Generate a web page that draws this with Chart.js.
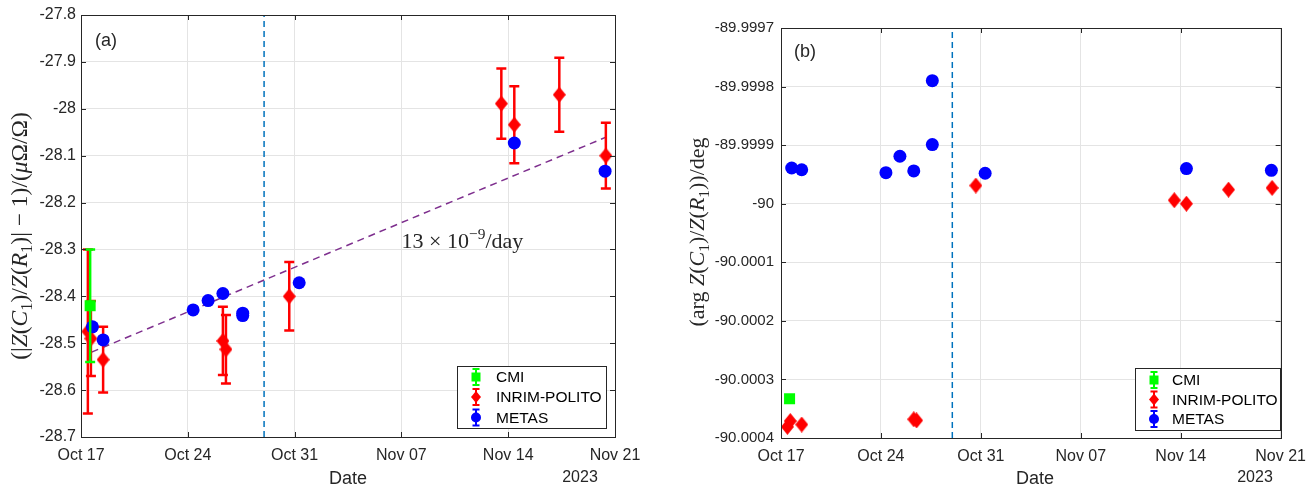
<!DOCTYPE html>
<html>
<head>
<meta charset="utf-8">
<script src="https://cdn.jsdelivr.net/npm/chart.js@4.4.0/dist/chart.umd.min.js"></script>
<style>
  html, body { margin: 0; padding: 0; background: #fff; }
  #wrap { position: relative; width: 1315px; height: 489px; }
  .pane { position: absolute; top: 0; }
</style>
</head>
<body>
<div id="wrap">
  <canvas id="chartA" class="pane" style="left:0" width="657" height="489"></canvas>
  <canvas id="chartB" class="pane" style="left:657px" width="658" height="489"></canvas>
</div>
<script>
// x values are days counted from Oct 17 2023
const dateTicks = [0, 7, 14, 21, 28, 35];
const dateLabels = ['Oct 17', 'Oct 24', 'Oct 31', 'Nov 07', 'Nov 14', 'Nov 21'];
const yTicksA = [-28.7, -28.6, -28.5, -28.4, -28.3, -28.2, -28.1, -28.0, -27.9, -27.8];
const yTicksB = [-90.0004, -90.0003, -90.0002, -90.0001, -90.0, -89.9999, -89.9998, -89.9997];
const splitDay = 12; // Oct 29

// CMI
const daysCMI = [0.6];
const absCMI = [-28.42];
const errAbsCMI = [0.12];
const argCMI = [-90.000333];

// INRIM-POLITO
const daysINRIM = [0.45, 0.65, 1.45, 9.3, 9.5, 13.65, 27.55, 28.4, 31.35, 34.4];
const absINRIM = [-28.475, -28.49, -28.535, -28.495, -28.513, -28.40, -27.989, -28.034, -27.970, -28.100];
const errAbsINRIM = [0.175, 0.08, 0.07, 0.073, 0.073, 0.073, 0.075, 0.082, 0.079, 0.07];
const argINRIM = [-90.000381, -90.000371, -90.000377, -90.000368, -90.00037, -89.999969, -89.999994, -90.0, -89.999976, -89.999973];

// METAS
const daysMETAS = [0.75, 1.45, 7.35, 8.33, 9.3, 10.6, 10.6, 14.3, 28.4, 34.35];
const absMETAS = [-28.465, -28.493, -28.429, -28.409, -28.394, -28.436, -28.441, -28.371, -28.073, -28.133];
const errAbsMETAS = [0.005, 0.005, 0.005, 0.005, 0.005, 0.005, 0.005, 0.005, 0.006, 0.005];
const argMETAS = [-89.999939, -89.999942, -89.999947, -89.999919, -89.999944, -89.99979, -89.999899, -89.999948, -89.99994, -89.999943];

// linear drift fit, 13e-9 per day
const trendDays = [0.7, 34.45];
const trendAbs = [-28.519, -28.060];

const TXT = '#262626';
const SANS = '"Liberation Sans", Arial, sans-serif';
const SERIF = '"Liberation Serif", "Times New Roman", serif';

function pts(xs, ys) { return xs.map((x, i) => ({ x: x, y: ys[i] })); }

// MATLAB style diamond marker
function diamond(w, h, color) {
  const c = document.createElement('canvas');
  c.width = w; c.height = h;
  const g = c.getContext('2d');
  g.fillStyle = color;
  g.beginPath();
  g.moveTo(w / 2, 0); g.lineTo(w, h / 2); g.lineTo(w / 2, h); g.lineTo(0, h / 2);
  g.closePath(); g.fill();
  return c;
}
const diamondMark = diamond(13, 16, '#ff0000');

function drawRuns(ctx, runs, x, y, size, family) {
  const pieces = runs.map(r => {
    const s = (r.sub || r.sup) ? size * 0.7 : size;
    const font = (r.it ? 'italic ' : '') + s + 'px ' + family;
    ctx.font = font;
    return { t: r.t, font: font, w: ctx.measureText(r.t).width, dy: r.sub ? size * 0.22 : (r.sup ? -size * 0.42 : 0) };
  });
  const total = pieces.reduce((a, p) => a + p.w, 0);
  let cx = x - total / 2;
  ctx.textAlign = 'left';
  ctx.textBaseline = 'alphabetic';
  pieces.forEach(p => { ctx.font = p.font; ctx.fillText(p.t, cx, y + p.dy); cx += p.w; });
}

const errorBars = {
  id: 'errorBars',
  beforeDatasetDraw(chart, args) {
    const ds = chart.data.datasets[args.index];
    if (!ds.errors) return;
    const ctx = chart.ctx, xs = chart.scales.x, ys = chart.scales.y;
    ctx.save();
    ctx.strokeStyle = ds.barColor;
    ctx.lineWidth = 2.5;
    ds.data.forEach((p, i) => {
      const e = ds.errors[i];
      const px = xs.getPixelForValue(p.x);
      const top = ys.getPixelForValue(p.y + e);
      const bot = ys.getPixelForValue(p.y - e);
      ctx.beginPath();
      ctx.moveTo(px, top); ctx.lineTo(px, bot);
      ctx.moveTo(px - 5, top); ctx.lineTo(px + 5, top);
      ctx.moveTo(px - 5, bot); ctx.lineTo(px + 5, bot);
      ctx.stroke();
    });
    ctx.restore();
  }
};

function framePlugin(cfg) {
  return {
    id: 'frame',
    afterDraw(chart) {
      const ctx = chart.ctx, a = chart.chartArea;
      const xs = chart.scales.x, ys = chart.scales.y;
      ctx.save();
      // box and inward ticks
      ctx.strokeStyle = TXT;
      ctx.lineWidth = 1;
      ctx.strokeRect(Math.round(a.left) + 0.5, Math.round(a.top) + 0.5, Math.round(a.right - a.left), Math.round(a.bottom - a.top));
      ctx.beginPath();
      dateTicks.forEach(v => {
        const px = Math.round(xs.getPixelForValue(v)) + 0.5;
        ctx.moveTo(px, a.bottom); ctx.lineTo(px, a.bottom - 5);
        ctx.moveTo(px, a.top); ctx.lineTo(px, a.top + 5);
      });
      cfg.yTicks.forEach(v => {
        const py = Math.round(ys.getPixelForValue(v)) + 0.5;
        ctx.moveTo(a.left, py); ctx.lineTo(a.left + 5, py);
        ctx.moveTo(a.right, py); ctx.lineTo(a.right - 5, py);
      });
      ctx.stroke();

      // panel tag, x label, year
      ctx.fillStyle = TXT;
      ctx.font = '18px ' + SANS;
      ctx.textAlign = 'left'; ctx.textBaseline = 'middle';
      ctx.fillText(cfg.tag, cfg.tagX, cfg.tagY);
      ctx.textAlign = 'center';
      ctx.font = '18px ' + SANS;
      ctx.fillText('Date', cfg.dateX, 479);
      ctx.font = '16px ' + SANS;
      ctx.fillText('2023', cfg.yearX, 478);

      // y label
      ctx.save();
      ctx.translate(cfg.ylabX, cfg.ylabY);
      ctx.rotate(-Math.PI / 2);
      drawRuns(ctx, cfg.ylabRuns, 0, 7, cfg.ylabSize, SERIF);
      ctx.restore();

      // annotation
      if (cfg.note) {
        const nx = xs.getPixelForValue(cfg.note.x), ny = ys.getPixelForValue(cfg.note.y);
        drawRuns(ctx, cfg.note.runs, nx, ny + 7, 22, SERIF);
      }

      // legend
      const L = cfg.legend;
      ctx.fillStyle = '#fff';
      ctx.fillRect(L.x, L.y, L.w, L.h);
      ctx.strokeStyle = TXT;
      ctx.strokeRect(L.x + 0.5, L.y + 0.5, L.w, L.h);
      const items = [
        { name: 'CMI', color: '#00ff00', shape: 'square' },
        { name: 'INRIM-POLITO', color: '#ff0000', shape: 'diamond' },
        { name: 'METAS', color: '#0000ff', shape: 'circle' }
      ];
      items.forEach((it, i) => {
        const cy = L.rowY[i], ix = L.iconX;
        ctx.strokeStyle = it.color; ctx.fillStyle = it.color; ctx.lineWidth = 2;
        ctx.beginPath();
        ctx.moveTo(ix, cy - 8); ctx.lineTo(ix, cy + 8);
        ctx.moveTo(ix - 3.5, cy - 8); ctx.lineTo(ix + 3.5, cy - 8);
        ctx.moveTo(ix - 3.5, cy + 8); ctx.lineTo(ix + 3.5, cy + 8);
        ctx.stroke();
        ctx.beginPath();
        if (it.shape === 'square') ctx.rect(ix - 4.5, cy - 4.5, 9, 9);
        else if (it.shape === 'diamond') { ctx.moveTo(ix, cy - 6); ctx.lineTo(ix + 5, cy); ctx.lineTo(ix, cy + 6); ctx.lineTo(ix - 5, cy); ctx.closePath(); }
        else ctx.arc(ix, cy, 5, 0, Math.PI * 2);
        ctx.fill();
        ctx.fillStyle = '#000';
        ctx.font = '15.5px ' + SANS;
        ctx.textAlign = 'left'; ctx.textBaseline = 'middle';
        ctx.fillText(it.name, L.textX, cy + 1);
      });
      ctx.restore();
    }
  };
}

// CMI drawn on top, then METAS, then INRIM-POLITO
function seriesSets(yCMI, yINRIM, yMETAS, withErrors) {
  return [
    { label: 'CMI', data: pts(daysCMI, yCMI), pointStyle: 'rect', pointRadius: 7.8, pointBorderWidth: 0,
      backgroundColor: '#00ff00', borderColor: '#00ff00', barColor: '#00ff00', errors: withErrors ? errAbsCMI : null, order: 0 },
    { label: 'METAS', data: pts(daysMETAS, yMETAS), pointStyle: 'circle', pointRadius: 6.5, pointBorderWidth: 0,
      backgroundColor: '#0000ff', borderColor: '#0000ff', barColor: '#0000ff', errors: withErrors ? errAbsMETAS : null, order: 1 },
    { label: 'INRIM-POLITO', data: pts(daysINRIM, yINRIM), pointStyle: diamondMark, pointRadius: 7, pointBorderWidth: 0,
      backgroundColor: '#ff0000', borderColor: '#ff0000', barColor: '#ff0000', errors: withErrors ? errAbsINRIM : null, order: 2 }
  ];
}

function baseOptions(yTicks, yWidth, xHeight, pad, yPad, yFont) {
  return {
    responsive: false,
    animation: false,
    events: [],
    layout: { padding: pad },
    plugins: { legend: { display: false }, tooltip: { enabled: false } },
    scales: {
      x: {
        type: 'linear', min: 0, max: 35,
        afterBuildTicks: s => { s.ticks = dateTicks.map(v => ({ value: v })); },
        afterFit: s => { s.height = xHeight; },
        ticks: { callback: v => dateLabels[dateTicks.indexOf(v)], color: TXT, font: { size: 16, family: SANS }, padding: 9, maxRotation: 0 },
        grid: { color: '#e4e4e4', drawTicks: false },
        border: { display: false }
      },
      y: {
        type: 'linear', min: yTicks[0], max: yTicks[yTicks.length - 1],
        afterBuildTicks: s => { s.ticks = yTicks.map(v => ({ value: v })); },
        afterFit: s => { s.width = yWidth; },
        ticks: { callback: v => String(+(+v).toFixed(4)), color: TXT, font: { size: yFont, family: SANS }, padding: yPad },
        grid: { color: '#e4e4e4', drawTicks: false },
        border: { display: false }
      }
    }
  };
}

// (a) magnitude
const setsA = seriesSets(absCMI, absINRIM, absMETAS, true);
setsA.push({ label: 'fit', data: pts(trendDays, trendAbs), showLine: true, pointRadius: 0,
  borderColor: '#7e2f8e', borderWidth: 1.5, borderDash: [7, 5], order: 3 });
setsA.push({ label: 'split', data: pts([splitDay, splitDay], [yTicksA[0], yTicksA[yTicksA.length - 1]]), showLine: true, pointRadius: 0,
  borderColor: '#0072bd', borderWidth: 1.5, borderDash: [6, 4], order: 4 });

new Chart(document.getElementById('chartA'), {
  type: 'scatter',
  data: { datasets: setsA },
  options: baseOptions(yTicksA, 81, 52, { left: 0, right: 42, top: 15, bottom: 0 }, 5, 16),
  plugins: [errorBars, framePlugin({
    yTicks: yTicksA, tag: '(a)', tagX: 95, tagY: 41, dateX: 348, yearX: 580,
    ylabX: 20, ylabY: 236, ylabSize: 23.5,
    ylabRuns: [{ t: '(|' }, { t: 'Z', it: 1 }, { t: '(' }, { t: 'C', it: 1 }, { t: '1', sub: 1 }, { t: ')/' },
      { t: 'Z', it: 1 }, { t: '(' }, { t: 'R', it: 1 }, { t: '1', sub: 1 }, { t: ')| \u2212 1)/(' }, { t: '\u03bc', it: 1 }, { t: '\u03a9/\u03a9)' }],
    note: { x: 25.0, y: -28.283, runs: [{ t: '13 \u00d7 10' }, { t: '\u22129', sup: 1 }, { t: '/day' }] },
    legend: { x: 457, y: 366, w: 149, h: 62, rowY: [377, 397, 417.5], iconX: 476, textX: 496 }
  })]
});

// (b) phase
const setsB = seriesSets(argCMI, argINRIM, argMETAS, false);
setsB.push({ label: 'split', data: pts([splitDay, splitDay], [yTicksB[0], yTicksB[yTicksB.length - 1]]), showLine: true, pointRadius: 0,
  borderColor: '#0072bd', borderWidth: 1.5, borderDash: [6, 4], order: 4 });

new Chart(document.getElementById('chartB'), {
  type: 'scatter',
  data: { datasets: setsB },
  options: baseOptions(yTicksB, 124, 51, { left: 0, right: 27, top: 28, bottom: 0 }, 7, 15),
  plugins: [errorBars, framePlugin({
    yTicks: yTicksB, tag: '(b)', tagX: 137, tagY: 52, dateX: 378, yearX: 598,
    ylabX: 40, ylabY: 232, ylabSize: 22,
    ylabRuns: [{ t: '(arg ' }, { t: 'Z', it: 1 }, { t: '(' }, { t: 'C', it: 1 }, { t: '1', sub: 1 }, { t: ')/' },
      { t: 'Z', it: 1 }, { t: '(' }, { t: 'R', it: 1 }, { t: '1', sub: 1 }, { t: '))/deg' }],
    note: null,
    legend: { x: 478, y: 368, w: 145, h: 62, rowY: [380, 399.5, 419], iconX: 497, textX: 515 }
  })]
});
</script>
</body>
</html>
